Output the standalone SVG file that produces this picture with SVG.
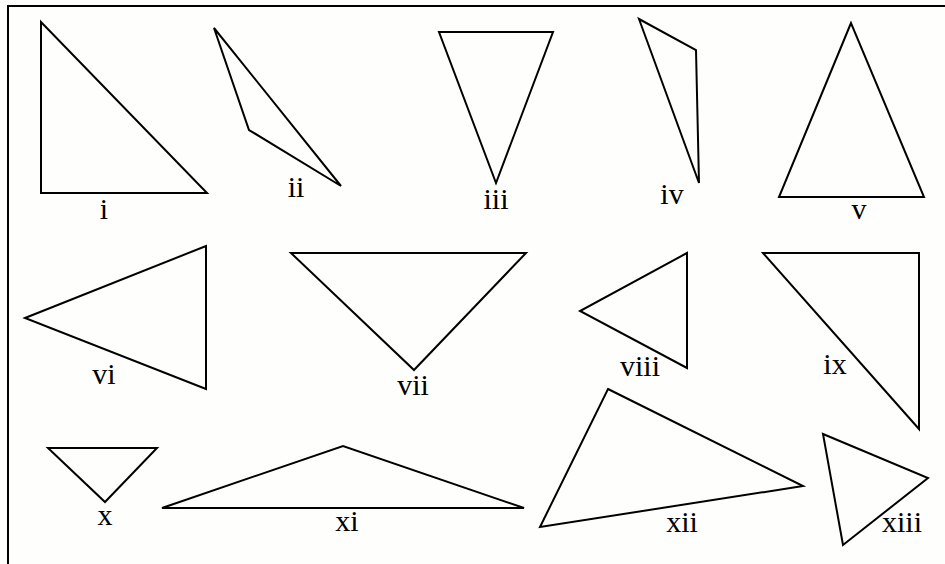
<svg xmlns="http://www.w3.org/2000/svg" width="945" height="564" viewBox="0 0 945 564">
<style>
.tri{fill:none;stroke:#000;stroke-width:2;stroke-linejoin:miter}
.lbl{font-family:"Liberation Serif","Times New Roman",serif;font-size:30px;fill:#000;text-anchor:middle}
.frame{fill:none;stroke:#000;stroke-width:2}
</style>
<rect x="0" y="0" width="945" height="564" fill="#fefefc"/>
<g id="frame">
<polyline class="frame" points="8,564 8,6 945,6"/>
</g>
<g id="connectors"></g>
<g id="t-i"><polygon class="tri" points="41,22 41,193 207,193"/><text class="lbl" x="104" y="219">i</text></g>
<g id="t-ii"><polygon class="tri" points="214,28 249,130 341,186"/><text class="lbl" x="296" y="197">ii</text></g>
<g id="t-iii"><polygon class="tri" points="439,32 553,32 496,183"/><text class="lbl" x="496" y="209">iii</text></g>
<g id="t-iv"><polygon class="tri" points="639,19 696,50 699,183"/><text class="lbl" x="672" y="204">iv</text></g>
<g id="t-v"><polygon class="tri" points="851,23 779,197 924,197"/><text class="lbl" x="859" y="219">v</text></g>
<g id="t-vi"><polygon class="tri" points="25,318 206,246 206,389"/><text class="lbl" x="104" y="384">vi</text></g>
<g id="t-vii"><polygon class="tri" points="291,253 526,253 414,370"/><text class="lbl" x="413" y="395">vii</text></g>
<g id="t-viii"><polygon class="tri" points="687,253 580,311 687,368"/><text class="lbl" x="640" y="376">viii</text></g>
<g id="t-ix"><polygon class="tri" points="763,253 919,253 919,429"/><text class="lbl" x="835" y="374">ix</text></g>
<g id="t-x"><polygon class="tri" points="48,448 157,448 105,502"/><text class="lbl" x="105" y="525">x</text></g>
<g id="t-xi"><polygon class="tri" points="162,508 343,446 524,508"/><text class="lbl" x="347" y="531">xi</text></g>
<g id="t-xii"><polygon class="tri" points="608,389 803,486 540,527"/><text class="lbl" x="682" y="532">xii</text></g>
<g id="t-xiii"><polygon class="tri" points="823,434 928,478 843,545"/><text class="lbl" x="902" y="532">xiii</text></g>
</svg>
